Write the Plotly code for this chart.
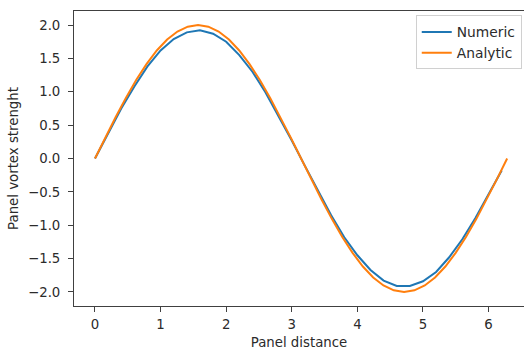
import plotly.graph_objects as go

# Numeric solution: vortex strength at each panel
numeric_x = [0.0, 0.2, 0.4, 0.6, 0.8, 1.0, 1.2, 1.4, 1.6, 1.8, 2.0, 2.2, 2.4, 2.6, 2.8, 3.0,
             3.2, 3.4, 3.6, 3.8, 4.0, 4.2, 4.4, 4.6, 4.8, 5.0, 5.2, 5.4, 5.6, 5.8, 6.0, 6.2]
numeric_y = [0.0, 0.38, 0.75, 1.08, 1.38, 1.62, 1.79, 1.89, 1.92, 1.87, 1.75, 1.55, 1.30, 0.99, 0.64, 0.27,
             -0.11, -0.49, -0.85, -1.18, -1.45, -1.67, -1.83, -1.91, -1.91, -1.84, -1.70, -1.48, -1.21, -0.89, -0.54, -0.18]

# Analytic solution
analytic_x = [0.0, 0.157, 0.314, 0.471, 0.628, 0.785, 0.942, 1.100, 1.257, 1.414, 1.571,
              1.728, 1.885, 2.042, 2.199, 2.356, 2.513, 2.670, 2.827, 2.985, 3.142,
              3.299, 3.456, 3.613, 3.770, 3.927, 4.084, 4.241, 4.398, 4.555, 4.712,
              4.869, 5.027, 5.184, 5.341, 5.498, 5.655, 5.812, 5.969, 6.126, 6.283]
analytic_y = [0.0, 0.313, 0.618, 0.908, 1.176, 1.414, 1.618, 1.782, 1.902, 1.975, 2.0,
              1.975, 1.902, 1.782, 1.618, 1.414, 1.176, 0.908, 0.618, 0.313, 0.0,
              -0.313, -0.618, -0.908, -1.176, -1.414, -1.618, -1.782, -1.902, -1.975, -2.0,
              -1.975, -1.902, -1.782, -1.618, -1.414, -1.176, -0.908, -0.618, -0.313, 0.0]

x_ticks = [0, 1, 2, 3, 4, 5, 6]
y_ticks = [-2.0, -1.5, -1.0, -0.5, 0.0, 0.5, 1.0, 1.5, 2.0]

FONT = "DejaVu Sans"
SIZE = 13.3
TEXT = "#2b2b2b"
AXIS = "#404040"

fig = go.Figure()
fig.add_trace(go.Scatter(x=numeric_x, y=numeric_y, mode="lines", name="Numeric",
                         line=dict(color="#1f77b4", width=2)))
fig.add_trace(go.Scatter(x=analytic_x, y=analytic_y, mode="lines", name="Analytic",
                         line=dict(color="#ff7f0e", width=2)))

fig.update_layout(
    width=524, height=353,
    margin=dict(l=74, r=0, t=11, b=47),
    paper_bgcolor="white", plot_bgcolor="white",
    font=dict(family=FONT, size=SIZE, color=TEXT),
    hovermode=False,
    showlegend=True,
    legend=dict(x=0.995, y=0.985, xanchor="right", yanchor="top",
                bgcolor="rgba(255,255,255,0.8)", bordercolor="#d0d0d0", borderwidth=1,
                font=dict(family=FONT, size=13.8, color=TEXT),
                itemwidth=30, tracegroupgap=0),
    xaxis=dict(range=[-0.32, 6.54], tickvals=x_ticks, ticktext=[str(v) for v in x_ticks],
               showgrid=False, zeroline=False, showline=True, linecolor=AXIS, linewidth=1,
               mirror=True, ticks="outside", ticklen=5, tickcolor=AXIS, tickwidth=1,
               ticklabelstandoff=1,
               title=dict(text="Panel distance", standoff=6,
                          font=dict(family=FONT, size=SIZE, color=TEXT))),
    yaxis=dict(range=[-2.21, 2.21], tickvals=y_ticks, tickformat=".1f",
               showgrid=False, zeroline=False, showline=True, linecolor=AXIS, linewidth=1,
               mirror=False, ticks="outside", ticklen=5, tickcolor=AXIS, tickwidth=1,
               ticklabelstandoff=5,
               title=dict(text="Panel vortex strenght", standoff=6,
                          font=dict(family=FONT, size=SIZE, color=TEXT))),
)

fig.write_html("out.html")
